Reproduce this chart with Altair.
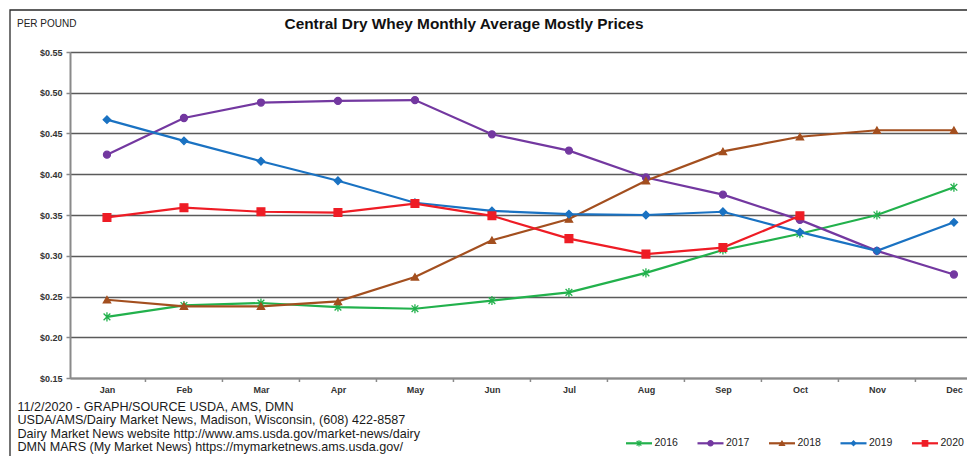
import json
import altair as alt
import pandas as pd

# ---------------- data ----------------
TITLE = "Central Dry Whey Monthly Average Mostly Prices"
UNIT = "PER POUND"
FOOTER = [
    "11/2/2020 - GRAPH/SOURCE USDA, AMS, DMN",
    "USDA/AMS/Dairy Market News, Madison, Wisconsin, (608) 422-8587",
    "Dairy Market News website http://www.ams.usda.gov/market-news/dairy",
    "DMN MARS (My Market News) https://mymarketnews.ams.usda.gov/",
]
months = ["Jan", "Feb", "Mar", "Apr", "May", "Jun", "Jul", "Aug", "Sep", "Oct", "Nov", "Dec"]
years = ["2016", "2017", "2018", "2019", "2020"]
p2016 = [0.225, 0.239, 0.242, 0.237, 0.235, 0.245, 0.255, 0.279, 0.307, 0.327, 0.350, 0.384]
p2017 = [0.424, 0.469, 0.488, 0.490, 0.491, 0.449, 0.429, 0.396, 0.375, 0.344, 0.306, 0.277]
p2018 = [0.246, 0.238, 0.238, 0.244, 0.274, 0.319, 0.345, 0.392, 0.428, 0.446, 0.454, 0.454]
p2019 = [0.467, 0.441, 0.416, 0.392, 0.365, 0.355, 0.351, 0.350, 0.354, 0.329, 0.306, 0.341]
p2020 = [0.347, 0.359, 0.354, 0.353, 0.364, 0.349, 0.321, 0.302, 0.310, 0.349]
y_ticks = [0.15, 0.20, 0.25, 0.30, 0.35, 0.40, 0.45, 0.50, 0.55]

# ---------------- styling ----------------
FONT = "Liberation Sans"
colors = ["#22b14c", "#7338a0", "#a34f1f", "#1a72c2", "#ee1c25"]
asterisk = "M-1,-1L1,1M-1,1L1,-1M0,-1.35L0,1.35"
shapes = [asterisk, "circle", "triangle-up", "diamond", "square"]
sizes = [45, 60, 55, 45, 70]
leg_sizes = [22, 28, 26, 22, 30]

series = [p2016, p2017, p2018, p2019, p2020]
rows = []
for yr, vals in zip(years, series):
    for i, v in enumerate(vals):
        rows.append({"m": i, "month": months[i], "year": yr, "price": v})
df = pd.DataFrame(rows)
tick_df = pd.DataFrame({"m": [i + 0.5 for i in range(len(months) - 1)]})

W, H = 897, 326
xscale = alt.Scale(domain=[-0.48, 11.17], nice=False, zero=False)
yscale = alt.Scale(domain=[0.15, 0.55], nice=False, zero=False)

X = alt.X(
    "m:Q", scale=xscale,
    axis=alt.Axis(values=list(range(12)), labelExpr=json.dumps(months) + "[datum.value]",
                  ticks=False, tickSize=0, grid=False, title=None, domainColor="#8a8a8a",
                  domainWidth=2, labelFontSize=9, labelPadding=7, labelColor="#333",
                  labelFont=FONT, labelFontWeight="bold", labelOverlap=False),
)
Y = alt.Y(
    "price:Q", scale=yscale,
    axis=alt.Axis(values=y_ticks, format="$.2f", title=None, grid=True, gridColor="#5a5a5a",
                  gridWidth=1.5, tickSize=4, tickColor="#8a8a8a", tickWidth=1.5,
                  domainColor="#8a8a8a", domainWidth=2, labelFontSize=9, labelPadding=4,
                  labelColor="#333", labelFont=FONT, labelFontWeight="bold"),
)
cscale = alt.Scale(domain=years, range=colors)

lines = alt.Chart(df).mark_line(strokeWidth=2.2).encode(
    x=X, y=Y, color=alt.Color("year:N", scale=cscale, legend=None)
)
points = alt.Chart(df).mark_point(filled=True, strokeWidth=1.3, opacity=1).encode(
    x=X, y=Y,
    color=alt.Color("year:N", scale=cscale, legend=None),
    stroke=alt.Stroke("year:N", scale=cscale, legend=None),
    shape=alt.Shape("year:N", scale=alt.Scale(domain=years, range=shapes), legend=None),
    size=alt.Size("year:O", scale=alt.Scale(domain=years, range=sizes), legend=None),
)
xticks = alt.Chart(tick_df).mark_rule(color="#8a8a8a", strokeWidth=1.5).encode(
    x=X, y=alt.value(H), y2=alt.value(H + 4)
)

one = pd.DataFrame({"a": [0]})
border = alt.Chart(one).mark_rect(fillOpacity=0, stroke="#2a2a2a", strokeWidth=1.3).encode(
    x=alt.value(-60), x2=alt.value(W + 20), y=alt.value(-42), y2=alt.value(H + 90)
)
title = alt.Chart(pd.DataFrame({"t": [TITLE]})).mark_text(
    font=FONT, fontSize=15.4, fontWeight="bold", align="center", baseline="alphabetic", color="#111"
).encode(x=alt.value(394), y=alt.value(-23), text="t:N")
unit = alt.Chart(pd.DataFrame({"t": [UNIT]})).mark_text(
    font=FONT, fontSize=10, align="left", baseline="alphabetic", color="#222"
).encode(x=alt.value(-53), y=alt.value(-25.5), text="t:N")
footer = alt.Chart(pd.DataFrame({"t": ["\n".join(FOOTER)]})).mark_text(
    font=FONT, fontSize=12.6, align="left", baseline="alphabetic", color="#1a1a1a",
    lineBreak="\n", lineHeight=13.3
).encode(x=alt.value(-52.5), y=alt.value(359), text="t:N")

legend_layers = []
for i, yr in enumerate(years):
    x0 = 556 + 71.5 * i
    yl = 391.3
    legend_layers.append(
        alt.Chart(one).mark_rule(color=colors[i], strokeWidth=2.2).encode(
            x=alt.value(x0), x2=alt.value(x0 + 26), y=alt.value(yl))
    )
    legend_layers.append(
        alt.Chart(one).mark_point(filled=True, color=colors[i], stroke=colors[i], strokeWidth=1.2,
                                  opacity=1, shape=shapes[i], size=leg_sizes[i]).encode(
            x=alt.value(x0 + 13), y=alt.value(yl))
    )
    legend_layers.append(
        alt.Chart(pd.DataFrame({"t": [yr]})).mark_text(
            font=FONT, fontSize=10.5, align="left", baseline="middle", color="#222").encode(
            x=alt.value(x0 + 28.5), y=alt.value(yl), text="t:N")
    )

chart = alt.layer(lines, points, xticks, border, title, unit, footer, *legend_layers).properties(
    width=W, height=H,
    autosize=alt.AutoSizeParams(type="none"),
    padding={"left": 62, "top": 44, "right": 0, "bottom": 78},
).configure_view(stroke=None).configure(background="white")

chart.save("out.html", embed_options={"renderer": "svg", "actions": False})
